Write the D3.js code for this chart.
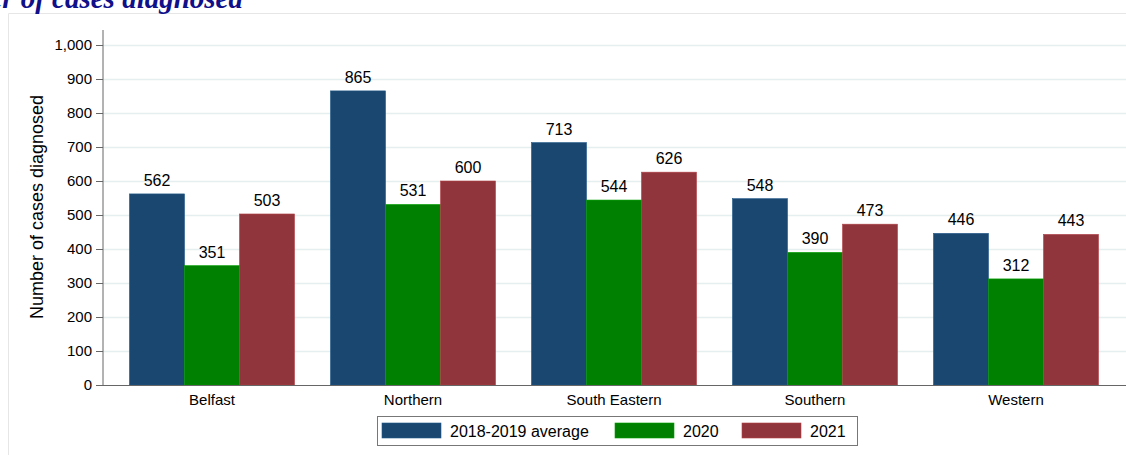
<!DOCTYPE html>
<html>
<head>
<meta charset="utf-8">
<script src="https://cdn.jsdelivr.net/npm/d3@7"></script>
<style>
  body { margin: 0; background: #fff; }
  text { font-family: Arial, "Liberation Sans", sans-serif; fill: #000; }
</style>
</head>
<body>
<script>
var regions = ["Belfast", "Northern", "South Eastern", "Southern", "Western"];
var seriesNames = ["2018-2019 average", "2020", "2021"];
var avg1819 = [562, 865, 713, 548, 446];
var y2020 = [351, 531, 544, 390, 312];
var y2021 = [503, 600, 626, 473, 443];
var yTicks = [0, 100, 200, 300, 400, 500, 600, 700, 800, 900, 1000];
var colors = ["#1a476f", "#008000", "#90353b"];

var width = 1126,
    height = 455;

var svg = d3.select("body").append("svg")
    .attr("width", width)
    .attr("height", height);

// light frame round the graph region
svg.append("path")
    .attr("d", "M8.5," + height + "V13.5H" + width)
    .attr("fill", "none")
    .attr("stroke", "#e6e6e6");

// title, cut off at the top-left like the source image
svg.append("text")
    .attr("x", 243)
    .attr("y", 8)
    .attr("text-anchor", "end")
    .style("font-family", "'Liberation Serif', 'DejaVu Serif', serif")
    .style("font-weight", "bold")
    .style("font-style", "italic")
    .style("font-size", "29px")
    .style("fill", "#10108a")
    .text("Number of cases diagnosed");

var y = d3.scaleLinear().domain([0, 1000]).range([385, 45]);
var x0 = d3.scaleBand().domain(regions).range([111.5, 1116.5]).paddingInner(0.179).paddingOuter(0.0895);
var x1 = d3.scaleBand().domain(seriesNames).range([0, x0.bandwidth()]);

// gridlines
svg.append("g")
  .selectAll("line")
    .data(yTicks.filter(function(d) { return d > 0; }))
  .enter().append("line")
    .attr("x1", 103)
    .attr("x2", width)
    .attr("y1", function(d) { return Math.round(y(d)) + 0.5; })
    .attr("y2", function(d) { return Math.round(y(d)) + 0.5; })
    .attr("stroke", "#e6eff0")
    .attr("stroke-width", 1.3);

var table = regions.map(function(r, i) {
  return { region: r, values: [avg1819[i], y2020[i], y2021[i]] };
});

var groups = svg.append("g")
  .selectAll("g")
    .data(table)
  .enter().append("g")
    .attr("transform", function(d) { return "translate(" + x0(d.region) + ",0)"; });

groups.selectAll("rect")
    .data(function(d) { return d.values.map(function(v, j) { return { key: seriesNames[j], value: v, j: j }; }); })
  .enter().append("rect")
    .attr("x", function(d) { return x1(d.key); })
    .attr("width", x1.bandwidth())
    .attr("y", function(d) { return y(d.value); })
    .attr("height", function(d) { return y(0) - y(d.value); })
    .attr("fill", function(d) { return colors[d.j]; })
    .attr("stroke", function(d) { return d3.color(colors[d.j]).brighter(0.6); })
    .attr("stroke-width", 0.6);

groups.selectAll("text")
    .data(function(d) { return d.values.map(function(v, j) { return { key: seriesNames[j], value: v }; }); })
  .enter().append("text")
    .attr("x", function(d) { return x1(d.key) + x1.bandwidth() / 2; })
    .attr("y", function(d) { return y(d.value) - 8; })
    .attr("text-anchor", "middle")
    .style("font-size", "16px")
    .text(function(d) { return d.value; });

// y axis
var yAxis = svg.append("g")
    .attr("transform", "translate(103,0)")
    .call(d3.axisLeft(y).tickValues(yTicks).tickSize(7).tickPadding(4).tickFormat(d3.format(",")));
yAxis.select(".domain").attr("stroke", "#666").attr("d", "M0,385.5V30");
yAxis.selectAll(".tick line").attr("stroke", "#666");
yAxis.selectAll(".tick text").style("font-size", "15px").style("font-family", "Arial, 'Liberation Sans', sans-serif").attr("fill", "#000");

// x axis
var xAxis = svg.append("g")
    .attr("transform", "translate(0,385)")
    .call(d3.axisBottom(x0).tickSize(0).tickPadding(9.5));
xAxis.select(".domain").attr("stroke", "#666").attr("d", "M103,0.5H" + width);
xAxis.selectAll(".tick text").style("font-size", "15px").style("font-family", "Arial, 'Liberation Sans', sans-serif").attr("fill", "#000");

svg.append("text")
    .attr("transform", "translate(43,207) rotate(-90)")
    .attr("text-anchor", "middle")
    .style("font-size", "18px")
    .text("Number of cases diagnosed");

// legend
var legend = svg.append("g");
legend.append("rect")
    .attr("x", 377.5)
    .attr("y", 416.5)
    .attr("width", 480)
    .attr("height", 29)
    .attr("fill", "#fff")
    .attr("stroke", "#777");

var legendX = [382, 615, 742];
var items = legend.selectAll("g")
    .data(seriesNames)
  .enter().append("g")
    .attr("transform", function(d, i) { return "translate(" + legendX[i] + ",423)"; });
items.append("rect")
    .attr("width", 59)
    .attr("height", 15)
    .attr("fill", function(d, i) { return colors[i]; })
    .attr("stroke", function(d, i) { return d3.color(colors[i]).brighter(0.6); })
    .attr("stroke-width", 0.6);
items.append("text")
    .attr("x", 68)
    .attr("y", 14)
    .style("font-size", "16px")
    .text(function(d) { return d; });
</script>
</body>
</html>
